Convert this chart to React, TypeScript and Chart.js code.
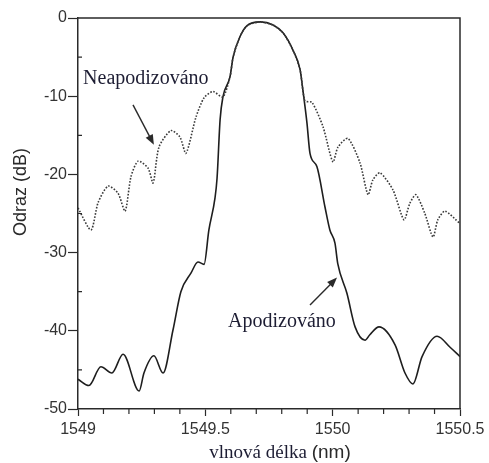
import React, { useEffect, useRef } from "react";
import { Chart, registerables } from "chart.js";

Chart.register(...registerables);

// Wavelength axis (nm) and reflectance axis (dB)
const xMin = 1549;
const xMax = 1550.5;
const yMin = -50;
const yMax = 0;

// Unapodized grating reflection spectrum
const neapodWavelength = [
  1549.0, 1549.051, 1549.079, 1549.118, 1549.157, 1549.185, 1549.208, 1549.236,
  1549.275, 1549.295, 1549.318, 1549.365, 1549.4, 1549.424, 1549.463, 1549.495,
  1549.53, 1549.569, 1549.597, 1549.609, 1549.636, 1549.663, 1549.715, 1549.766,
  1549.805, 1549.844, 1549.872, 1549.891, 1549.919, 1549.962, 1550.001, 1550.021,
  1550.06, 1550.107, 1550.139, 1550.158, 1550.186, 1550.237, 1550.28, 1550.303,
  1550.327, 1550.362, 1550.394, 1550.413, 1550.441, 1550.5,
];
const neapodReflect = [
  -24.3, -27.1, -23.6, -21.5, -22.4, -24.7, -20.3, -18.3,
  -19.2, -21.1, -16.5, -14.4, -15.2, -17.3, -12.7, -10.2,
  -9.4, -10.1, -7.5, -5.0, -2.4, -1.0, -0.5, -0.9,
  -1.9, -4.1, -6.6, -10.6, -10.8, -13.9, -18.4, -16.5,
  -15.4, -18.5, -22.6, -20.7, -19.8, -22.0, -25.8, -23.7,
  -22.6, -25.0, -28.0, -25.8, -24.7, -26.3,
];

// Apodized grating reflection spectrum
const apodWavelength = [
  1549.0, 1549.043, 1549.09, 1549.133, 1549.177, 1549.24, 1549.259, 1549.298,
  1549.334, 1549.373, 1549.404, 1549.444, 1549.471, 1549.495, 1549.514, 1549.538,
  1549.546, 1549.558, 1549.569, 1549.597, 1549.609, 1549.636, 1549.663, 1549.715,
  1549.766, 1549.805, 1549.844, 1549.872, 1549.883, 1549.899, 1549.911, 1549.938,
  1549.97, 1549.989, 1550.009, 1550.02, 1550.056, 1550.088, 1550.127, 1550.146,
  1550.182, 1550.245, 1550.284, 1550.315, 1550.351, 1550.41, 1550.461, 1550.5,
];
const apodReflect = [
  -46.2, -47.0, -44.6, -45.4, -43.0, -47.7, -45.4, -43.2,
  -45.4, -39.9, -35.0, -32.6, -31.2, -31.5, -27.1, -23.0,
  -20.5, -13.0, -10.1, -7.5, -5.0, -2.4, -1.0, -0.5,
  -0.9, -1.9, -4.1, -6.6, -9.2, -13.4, -17.3, -19.0,
  -24.2, -27.1, -28.8, -31.4, -35.2, -39.5, -41.2, -40.5,
  -39.5, -41.8, -45.4, -46.8, -43.3, -40.7, -42.1, -43.3,
];

const xTitleSerif = "vlnová délka ";
const xTitleSans = "(nm)";
const yTitle = "Odraz (dB)";
const neapodLabel = "Neapodizováno";
const apodLabel = "Apodizováno";

const ink = "#2a2a2a";
const textInk = "#1d1d33";

function toPoints(xs: number[], ys: number[]) {
  return xs.map((x, i) => ({ x, y: ys[i] }));
}

function drawArrow(ctx: CanvasRenderingContext2D, x1: number, y1: number, x2: number, y2: number) {
  const ang = Math.atan2(y2 - y1, x2 - x1);
  const headLen = 10;
  const headW = 4;
  ctx.beginPath();
  ctx.moveTo(x1, y1);
  ctx.lineTo(x2 - Math.cos(ang) * headLen * 0.6, y2 - Math.sin(ang) * headLen * 0.6);
  ctx.stroke();
  ctx.beginPath();
  ctx.moveTo(x2, y2);
  ctx.lineTo(
    x2 - Math.cos(ang) * headLen + Math.sin(ang) * headW,
    y2 - Math.sin(ang) * headLen - Math.cos(ang) * headW
  );
  ctx.lineTo(
    x2 - Math.cos(ang) * headLen - Math.sin(ang) * headW,
    y2 - Math.sin(ang) * headLen + Math.cos(ang) * headW
  );
  ctx.closePath();
  ctx.fill();
}

const decorations = {
  id: "decorations",
  afterDraw(chart: any) {
    const { ctx, chartArea, scales } = chart;
    const xs = scales.x;
    const ys = scales.y;
    ctx.save();

    // frame on top and right
    ctx.strokeStyle = ink;
    ctx.lineWidth = 1.5;
    ctx.beginPath();
    ctx.moveTo(chartArea.left, chartArea.top);
    ctx.lineTo(chartArea.right, chartArea.top);
    ctx.lineTo(chartArea.right, chartArea.bottom);
    ctx.stroke();

    // minor ticks
    ctx.lineWidth = 1.2;
    ctx.beginPath();
    for (let v = xMin + 0.1; v < xMax - 0.001; v += 0.1) {
      const r = Math.round(v * 10) / 10;
      if (Math.abs(r * 2 - Math.round(r * 2)) < 1e-6) continue;
      const px = xs.getPixelForValue(r);
      ctx.moveTo(px, chartArea.bottom);
      ctx.lineTo(px, chartArea.bottom + 5);
    }
    for (let v = yMin + 5; v < yMax; v += 10) {
      const py = ys.getPixelForValue(v);
      ctx.moveTo(chartArea.left, py);
      ctx.lineTo(chartArea.left + 4, py);
    }
    ctx.stroke();

    // axis titles
    ctx.fillStyle = textInk;
    ctx.textBaseline = "alphabetic";
    ctx.font = '19px "Liberation Serif"';
    const w1 = ctx.measureText(xTitleSerif).width;
    ctx.font = '19px "Liberation Sans"';
    const w2 = ctx.measureText(xTitleSans).width;
    const xStart = 280 - (w1 + w2) / 2;
    ctx.font = '19px "Liberation Serif"';
    ctx.textAlign = "left";
    ctx.fillText(xTitleSerif, xStart, 458);
    ctx.font = '19px "Liberation Sans"';
    ctx.fillStyle = ink;
    ctx.fillText(xTitleSans, xStart + w1, 458);

    ctx.save();
    ctx.translate(26, 192);
    ctx.rotate(-Math.PI / 2);
    ctx.textAlign = "center";
    ctx.font = '18px "Liberation Sans"';
    ctx.fillStyle = ink;
    ctx.fillText(yTitle, 0, 0);
    ctx.restore();

    // series annotations
    ctx.fillStyle = textInk;
    ctx.font = '20px "Liberation Serif"';
    ctx.textAlign = "left";
    ctx.fillText(neapodLabel, xs.getPixelForValue(1549.02), ys.getPixelForValue(-8.5));
    ctx.fillText(apodLabel, xs.getPixelForValue(1549.589), ys.getPixelForValue(-39.5));

    ctx.strokeStyle = ink;
    ctx.fillStyle = ink;
    ctx.lineWidth = 1.4;
    drawArrow(
      ctx,
      xs.getPixelForValue(1549.216),
      ys.getPixelForValue(-11.1),
      xs.getPixelForValue(1549.298),
      ys.getPixelForValue(-16.2)
    );
    drawArrow(
      ctx,
      xs.getPixelForValue(1549.911),
      ys.getPixelForValue(-36.7),
      xs.getPixelForValue(1550.017),
      ys.getPixelForValue(-33.2)
    );
    ctx.restore();
  },
};

export default function App() {
  const canvasRef = useRef<HTMLCanvasElement | null>(null);

  useEffect(() => {
    const canvas = canvasRef.current;
    if (!canvas) return;
    const chart = new Chart(canvas, {
      type: "line",
      data: {
        datasets: [
          {
            label: neapodLabel,
            data: toPoints(neapodWavelength, neapodReflect),
            borderColor: "#3a3a3a",
            borderWidth: 1.6,
            borderDash: [1.6, 1.6],
            pointRadius: 0,
            tension: 0.25,
            fill: false,
          },
          {
            label: apodLabel,
            data: toPoints(apodWavelength, apodReflect),
            borderColor: "#1e1e1e",
            borderWidth: 1.6,
            pointRadius: 0,
            cubicInterpolationMode: "monotone",
            fill: false,
          },
        ],
      },
      options: {
        animation: false,
        responsive: false,
        parsing: false as any,
        layout: { padding: { top: 18, right: 29, left: 0, bottom: 0 } },
        plugins: {
          legend: { display: false },
          tooltip: { enabled: false },
        },
        scales: {
          x: {
            type: "linear",
            min: xMin,
            max: xMax,
            ticks: {
              stepSize: 0.5,
              color: "#333",
              font: { family: "Liberation Sans", size: 16 },
              padding: 4,
              callback: (v: any) => String(v),
            },
            grid: {
              drawOnChartArea: false,
              tickLength: 7,
              color: ink,
              tickWidth: 1.2,
            },
            border: { display: true, color: ink, width: 1.5 },
            afterFit: (s: any) => {
              s.height = 54;
            },
          },
          y: {
            type: "linear",
            min: yMin,
            max: yMax,
            ticks: {
              stepSize: 10,
              color: "#333",
              font: { family: "Liberation Sans", size: 16 },
              padding: 1,
              callback: (v: any) => String(v),
            },
            grid: {
              drawOnChartArea: false,
              tickLength: 10,
              color: ink,
              tickWidth: 1.2,
            },
            border: { display: true, color: ink, width: 1.5 },
            afterFit: (s: any) => {
              s.width = 78;
            },
          },
        },
      },
      plugins: [decorations],
    });
    return () => chart.destroy();
  }, []);

  return (
    <div style={{ position: "absolute", left: 0, top: 0, width: 489, height: 463, background: "#fff" }}>
      <canvas ref={canvasRef} width={489} height={463} style={{ display: "block" }} />
    </div>
  );
}
